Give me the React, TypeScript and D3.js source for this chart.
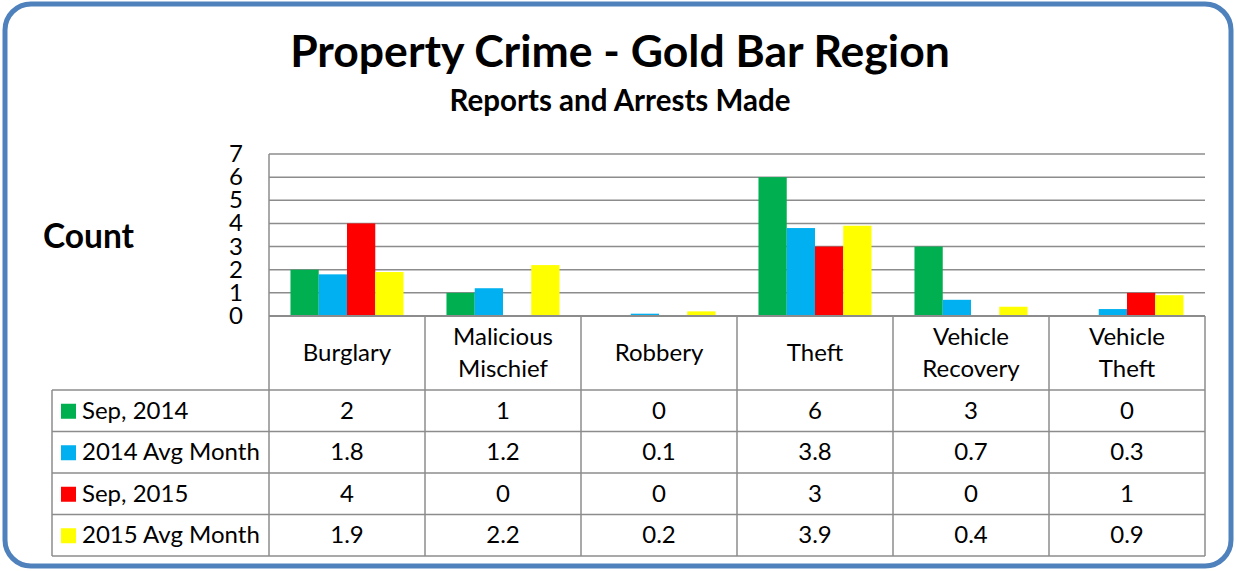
import React from "react";
import * as d3 from "d3";

const categories = ["Burglary", "Malicious Mischief", "Robbery", "Theft", "Vehicle Recovery", "Vehicle Theft"];
const categoryLines = [["Burglary"], ["Malicious", "Mischief"], ["Robbery"], ["Theft"], ["Vehicle", "Recovery"], ["Vehicle", "Theft"]];
const seriesNames = ["Sep, 2014", "2014 Avg Month", "Sep, 2015", "2015 Avg Month"];
const seriesColors = ["#00B050", "#00B0F0", "#FF0000", "#FFFF00"];
const sep2014 = [2, 1, 0, 6, 3, 0];
const avg2014 = [1.8, 1.2, 0.1, 3.8, 0.7, 0.3];
const sep2015 = [4, 0, 0, 3, 0, 1];
const avg2015 = [1.9, 2.2, 0.2, 3.9, 0.4, 0.9];
const seriesValues = [sep2014, avg2014, sep2015, avg2015];
const yTicks = [0, 1, 2, 3, 4, 5, 6, 7];

const W = 1236, H = 571;
const FONT = "Lato, 'Open Sans', sans-serif";

export default function App() {
  const plotL = 269, plotR = 1205, plotT = 154, plotB = 316;
  const x = d3.scaleBand<string>().domain(categories).range([plotL, plotR]);
  const y = d3.scaleLinear().domain([0, 7]).range([plotB, plotT]);
  const inner = d3.scaleBand<number>().domain([0, 1, 2, 3]).range([0, x.bandwidth()]).paddingOuter(0.76).paddingInner(0);
  const headerB = 390;
  const rowH = 41.5;
  const legL = 52;
  const grid = "#8C8C8C";
  const fs = 24;

  return (
    <svg width={W} height={H} style={{ position: "absolute", left: 0, top: 0, background: "#fff" }} fontFamily={FONT}>
      <rect x={5} y={4} width={1226} height={562} rx={26} ry={26} fill="#fff" stroke="#4F81BD" strokeWidth={5} />
      <text x={620} y={67} textAnchor="middle" fontSize={44.5} fontWeight="bold" fill="#000">Property Crime - Gold Bar Region</text>
      <text x={620} y={111} textAnchor="middle" fontSize={29.5} fontWeight="bold" fill="#000">Reports and Arrests Made</text>
      <text x={43} y={248} fontSize={33.5} fontWeight="bold" fill="#000">Count</text>

      {yTicks.map((t) => (
        <g key={t}>
          {t > 0 && <line x1={plotL} x2={plotR} y1={y(t)} y2={y(t)} stroke={grid} strokeWidth={1.5} />}
          <text x={243} y={y(t) + 8} textAnchor="end" fontSize={fs} fill="#000">{t}</text>
        </g>
      ))}

      {categories.map((c, ci) => (
        <g key={c}>
          {seriesValues.map((vals, si) => vals[ci] > 0 ? (
            <rect key={si} x={(x(c) as number) + (inner(si) as number)} width={inner.bandwidth()}
              y={y(vals[ci])} height={plotB - y(vals[ci])} fill={seriesColors[si]} />
          ) : null)}
        </g>
      ))}

      {/* table */}
      <line x1={plotL} x2={plotL} y1={plotT} y2={headerB + rowH * 4} stroke={grid} strokeWidth={1.5} />
      <line x1={plotL} x2={plotR} y1={plotB} y2={plotB} stroke={grid} strokeWidth={2} />
      {categories.map((c) => (
        <line key={c} x1={(x(c) as number) + x.bandwidth()} x2={(x(c) as number) + x.bandwidth()} y1={plotB} y2={headerB + rowH * 4} stroke={grid} strokeWidth={1.5} />
      ))}
      {[0, 1, 2, 3, 4].map((r) => (
        <line key={r} x1={legL} x2={plotR} y1={headerB + rowH * r} y2={headerB + rowH * r} stroke={grid} strokeWidth={1.5} />
      ))}
      <line x1={legL} x2={legL} y1={headerB} y2={headerB + rowH * 4} stroke={grid} strokeWidth={1.5} />

      {categories.map((c, ci) => {
        const lines = categoryLines[ci];
        const cx = (x(c) as number) + x.bandwidth() / 2;
        return lines.map((l, li) => (
          <text key={c + li} x={cx} textAnchor="middle" fontSize={fs} fill="#000"
            y={lines.length === 1 ? 361 : 345 + li * 32}>{l}</text>
        ));
      })}

      {seriesNames.map((s, si) => {
        const cy = headerB + rowH * si + rowH / 2;
        return (
          <g key={s}>
            <rect x={61} y={cy - 7} width={15} height={15} fill={seriesColors[si]} />
            <text x={82} y={cy + 8} fontSize={fs} fill="#000">{s}</text>
            {categories.map((c, ci) => (
              <text key={c} x={(x(c) as number) + x.bandwidth() / 2} y={cy + 8} textAnchor="middle" fontSize={fs} fill="#000">
                {String(seriesValues[si][ci])}
              </text>
            ))}
          </g>
        );
      })}
    </svg>
  );
}
